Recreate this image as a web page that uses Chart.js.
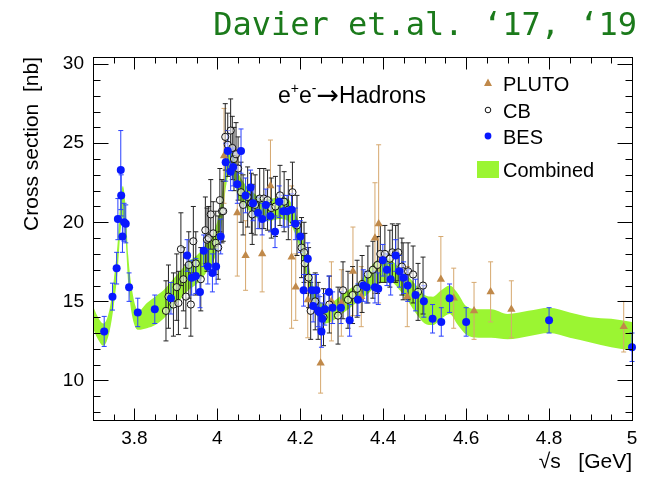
<!DOCTYPE html>
<html>
<head>
<meta charset="utf-8">
<script src="https://cdn.jsdelivr.net/npm/chart.js@4.4.0/dist/chart.umd.min.js"></script>
<style>
  html, body { margin: 0; padding: 0; background: #fff; }
  canvas { display: block; }
</style>
</head>
<body>
<canvas id="xsecChart" width="657" height="477"></canvas>
<script>
// tick labels
const xTicks = [3.8, 4, 4.2, 4.4, 4.6, 4.8, 5]
const yTicks = [10, 15, 20, 25, 30]

// combined fit band (lower / upper edge)
const bandE = [3.70, 3.71, 3.725, 3.74, 3.75, 3.76, 3.765, 3.772, 3.778, 3.785, 3.795, 3.81, 3.83, 3.85, 3.87, 3.89, 3.91, 3.93, 3.95, 3.97, 3.99, 4.00, 4.01, 4.02, 4.03, 4.04, 4.05, 4.07, 4.09, 4.11, 4.13, 4.15, 4.17, 4.18, 4.19, 4.20, 4.21, 4.22, 4.23, 4.24, 4.26, 4.28, 4.30, 4.32, 4.34, 4.36, 4.38, 4.40, 4.42, 4.44, 4.46, 4.48, 4.50, 4.52, 4.54, 4.56, 4.58, 4.60, 4.63, 4.66, 4.70, 4.75, 4.80, 4.85, 4.90, 4.95, 5.00]
const bandLow = [13.3, 12.7, 12.2, 13.1, 14.7, 17.1, 19.0, 20.3, 19.2, 16.1, 14.0, 13.2, 13.3, 13.5, 13.9, 14.5, 15.1, 15.7, 16.1, 16.7, 17.5, 18.3, 19.7, 22.1, 23.1, 22.6, 21.6, 20.9, 20.4, 20.1, 20.1, 20.2, 20.1, 19.7, 19.1, 18.2, 17.1, 15.9, 14.7, 14.1, 13.6, 13.8, 14.2, 14.6, 15.0, 15.4, 15.9, 16.2, 16.2, 15.7, 15.0, 14.2, 13.6, 13.5, 13.9, 14.2, 13.5, 12.9, 12.7, 12.7, 12.6, 12.8, 13.0, 12.7, 12.4, 12.1, 11.9]
const bandHigh = [14.7, 14.1, 13.6, 14.5, 16.3, 18.9, 21.0, 22.3, 21.2, 17.9, 15.6, 14.4, 14.9, 15.3, 15.7, 16.3, 16.9, 17.5, 17.9, 18.5, 19.3, 20.1, 21.5, 23.9, 24.9, 24.2, 23.2, 22.3, 21.8, 21.5, 21.5, 21.6, 21.5, 21.1, 20.5, 19.6, 18.5, 17.3, 16.1, 15.3, 14.8, 15.0, 15.4, 15.8, 16.2, 16.8, 17.5, 17.8, 17.6, 17.1, 16.6, 16.0, 15.4, 15.3, 15.7, 16.0, 15.5, 14.7, 14.5, 14.5, 14.2, 14.4, 14.6, 14.3, 14.0, 13.9, 13.7]

// BES
const besE = [3.727, 3.747, 3.757, 3.760, 3.767, 3.768, 3.771, 3.775, 3.779, 3.787, 3.808, 3.849, 3.888, 3.927, 3.938, 3.948, 3.958, 3.967, 3.977, 3.988, 3.997, 4.008, 4.020, 4.025, 4.032, 4.038, 4.048, 4.057, 4.068, 4.080, 4.086, 4.098, 4.108, 4.117, 4.128, 4.139, 4.149, 4.159, 4.168, 4.179, 4.188, 4.200, 4.208, 4.218, 4.228, 4.231, 4.239, 4.243, 4.247, 4.251, 4.253, 4.259, 4.269, 4.278, 4.298, 4.319, 4.339, 4.352, 4.360, 4.380, 4.388, 4.399, 4.409, 4.418, 4.430, 4.439, 4.449, 4.459, 4.478, 4.498, 4.519, 4.540, 4.560, 4.600, 4.800, 5.000]
const besXs = [13.1, 15.3, 17.1, 20.2, 23.3, 21.7, 19.1, 20.0, 19.9, 15.9, 14.3, 14.5, 15.2, 17.9, 16.5, 16.6, 15.6, 18.2, 17.2, 16.8, 17.2, 19.1, 23.8, 24.5, 23.2, 23.5, 22.4, 24.5, 21.7, 22.2, 21.2, 20.6, 20.2, 21.1, 20.4, 19.4, 21.3, 20.7, 20.7, 20.8, 19.9, 19.1, 15.7, 17.7, 15.7, 14.7, 15.7, 14.4, 14.3, 13.1, 13.9, 14.5, 15.6, 14.6, 14.6, 13.8, 15.1, 16.0, 15.9, 15.9, 15.8, 17.6, 17.0, 16.4, 17.9, 16.9, 16.5, 16.0, 15.4, 15.0, 13.9, 13.7, 15.2, 13.7, 13.8, 12.1]
const besErr = [0.95, 0.85, 1.0, 1.3, 2.5, 1.3, 1.0, 1.2, 1.2, 0.9, 0.9, 0.9, 1.0, 1.0, 1.1, 1.1, 1.0, 1.0, 1.1, 1.2, 1.1, 1.1, 1.2, 1.3, 1.2, 1.2, 1.2, 1.4, 1.1, 1.1, 1.1, 1.0, 1.0, 1.0, 1.0, 1.0, 1.0, 1.0, 1.0, 1.0, 1.0, 1.0, 1.0, 1.0, 1.0, 1.0, 1.0, 1.0, 1.0, 1.0, 1.0, 1.0, 1.0, 1.0, 1.0, 1.0, 1.0, 1.0, 1.0, 1.0, 1.0, 1.0, 1.0, 1.0, 1.0, 1.0, 1.0, 1.0, 1.0, 1.0, 0.9, 0.9, 0.9, 0.9, 0.8, 0.9]

// Crystal Ball
const cbE = [3.876, 3.882, 3.894, 3.902, 3.906, 3.912, 3.918, 3.924, 3.931, 3.936, 3.942, 3.948, 3.960, 3.971, 3.975, 3.979, 3.984, 3.990, 3.996, 4.002, 4.006, 4.011, 4.014, 4.019, 4.025, 4.032, 4.036, 4.040, 4.045, 4.050, 4.057, 4.062, 4.073, 4.082, 4.084, 4.091, 4.102, 4.112, 4.121, 4.130, 4.140, 4.151, 4.161, 4.171, 4.181, 4.192, 4.203, 4.209, 4.211, 4.220, 4.225, 4.236, 4.243, 4.256, 4.270, 4.291, 4.303, 4.315, 4.326, 4.337, 4.349, 4.363, 4.375, 4.386, 4.393, 4.404, 4.416, 4.422, 4.430, 4.436, 4.445, 4.448, 4.460, 4.472, 4.484, 4.496]
const cbXs = [14.4, 15.3, 14.8, 15.9, 14.9, 18.3, 16.4, 15.3, 17.3, 14.8, 18.8, 17.4, 16.4, 19.5, 18.9, 19.0, 20.5, 19.3, 18.7, 18.4, 21.4, 20.7, 20.7, 25.4, 24.9, 25.8, 24.7, 24.0, 24.3, 23.4, 21.9, 21.1, 21.6, 21.2, 20.5, 21.1, 21.5, 21.5, 21.4, 20.9, 21.0, 21.7, 21.3, 20.8, 21.9, 19.8, 18.4, 18.1, 17.4, 16.5, 14.4, 15.0, 14.4, 14.0, 14.8, 14.1, 15.7, 15.1, 15.4, 15.8, 16.1, 16.7, 17.0, 17.3, 18.0, 18.0, 17.7, 18.1, 18.0, 18.1, 17.2, 16.9, 16.9, 16.7, 15.6, 16.0]
const cbErr = [1.9, 2.0, 2.0, 2.1, 2.0, 2.3, 2.0, 2.0, 2.1, 2.0, 2.2, 2.0, 2.0, 2.1, 2.0, 2.0, 2.2, 2.0, 2.0, 2.0, 2.0, 2.0, 1.9, 2.1, 2.0, 2.0, 2.0, 2.0, 2.0, 2.0, 1.9, 1.9, 1.9, 1.9, 1.9, 1.9, 1.9, 1.9, 1.9, 1.9, 1.9, 1.9, 1.9, 1.9, 1.9, 1.9, 1.9, 1.9, 1.9, 1.9, 1.8, 1.8, 1.8, 1.8, 1.8, 1.8, 1.8, 1.8, 1.8, 1.8, 1.8, 1.8, 1.8, 1.8, 1.8, 1.8, 1.8, 1.8, 1.8, 1.8, 1.8, 1.8, 1.8, 1.8, 1.8, 1.8]

// PLUTO
const plutoE = [4.016, 4.048, 4.068, 4.108, 4.128, 4.179, 4.189, 4.218, 4.249, 4.275, 4.299, 4.327, 4.347, 4.380, 4.389, 4.458, 4.539, 4.570, 4.619, 4.659, 4.709, 4.980]
const plutoXs = [24.2, 20.6, 17.9, 18.0, 22.3, 17.8, 15.9, 15.1, 11.1, 15.0, 14.9, 16.9, 15.3, 19.0, 19.9, 15.3, 16.4, 15.2, 14.4, 15.6, 14.5, 13.4]
const plutoErr = [3.0, 4.0, 2.2, 2.4, 2.9, 4.5, 2.1, 2.4, 1.9, 2.5, 2.1, 2.8, 1.9, 3.5, 5.0, 1.9, 2.7, 1.9, 1.8, 1.9, 1.8, 1.6]

const points = (e, v) => e.map((x, i) => ({x, y: v[i]}))
// vertical error bars as broken line segments, caps drawn as 'line' points
const errorBars = (e, v, err) => {
  const pts = []
  e.forEach((x, i) => {
    pts.push({x, y: v[i] - err[i]}, {x, y: v[i] + err[i]}, {x, y: null})
  })
  return pts
}
const bars = (data, color, order) => ({
  data,
  showLine: true,
  spanGaps: false,
  borderColor: color,
  borderWidth: 1,
  pointStyle: 'line',
  pointRadius: 2.5,
  pointBorderColor: color,
  pointBorderWidth: 1,
  clip: false,
  order
})

const FONT = 'Liberation Sans'
const GREEN = '#9bf532'

const decor = {
  id: 'decor',
  afterDatasetsDraw (chart) {
    const {ctx, chartArea: a, scales: {x, y}} = chart
    ctx.save()
    ctx.strokeStyle = '#000'
    ctx.lineWidth = 1
    const L = Math.round(a.left) + 0.5, R = Math.round(a.right) + 0.5
    const T = Math.round(a.top) + 0.5, B = Math.round(a.bottom) + 0.5
    ctx.strokeRect(L, T, R - L, B - T)
    ctx.beginPath()
    for (let i = 0; i <= 26; i++) {
      const v = 3.7 + i * 0.05
      const px = Math.round(x.getPixelForValue(v)) + 0.5
      const major = xTicks.some(t => Math.abs(t - v) < 1e-6)
      const len = major ? 12 : 6
      ctx.moveTo(px, B); ctx.lineTo(px, B - len)
      ctx.moveTo(px, T); ctx.lineTo(px, T + len)
    }
    for (let v = 8; v <= 30; v++) {
      const py = Math.round(y.getPixelForValue(v)) + 0.5
      const len = v % 5 === 0 ? 15 : 7
      ctx.moveTo(L, py); ctx.lineTo(L + len, py)
      ctx.moveTo(R, py); ctx.lineTo(R - len, py)
    }
    ctx.stroke()

    // reaction label
    ctx.fillStyle = '#000'
    ctx.textAlign = 'left'
    ctx.textBaseline = 'alphabetic'
    let cx = 278
    const big = '23px "' + FONT + '"', small = '14px "' + FONT + '"'
    const piece = (t, f, base) => { ctx.font = f; ctx.fillText(t, cx, base); cx += ctx.measureText(t).width }
    piece('e', big, 103)
    piece('+', small, 93)
    piece('e', big, 103)
    piece('-', small, 93)
    piece('→', '27px "DejaVu Sans"', 104)
    piece('Hadrons', big, 103)

    // legend
    ctx.font = '20px "' + FONT + '"'
    ctx.fillText('PLUTO', 503, 91)
    ctx.fillText('CB', 503, 118)
    ctx.fillText('BES', 503, 144)
    ctx.fillText('Combined', 503, 177)
    ctx.fillStyle = '#c0894a'
    ctx.beginPath()
    ctx.moveTo(488, 78.5); ctx.lineTo(492, 86); ctx.lineTo(484, 86); ctx.closePath()
    ctx.fill()
    ctx.beginPath()
    ctx.arc(488, 110, 2.8, 0, Math.PI * 2)
    ctx.strokeStyle = '#111'
    ctx.stroke()
    ctx.fillStyle = '#0818ff'
    ctx.beginPath()
    ctx.arc(488, 136, 3.4, 0, Math.PI * 2)
    ctx.fill()
    ctx.fillStyle = GREEN
    ctx.fillRect(477, 161, 22, 17)

    // header
    ctx.fillStyle = '#1b7a1b'
    ctx.textAlign = 'right'
    ctx.font = '32px "DejaVu Sans Mono"'
    ctx.fillText('Davier et.al. ‘17, ‘19', 637, 35)
    ctx.restore()
  }
}

new Chart('xsecChart', {
  type: 'scatter',
  data: {
    datasets: [
      { label: 'BES', data: points(besE, besXs), pointRadius: 4, pointBackgroundColor: '#0818ff', pointBorderColor: '#0818ff', pointBorderWidth: 0, clip: false, order: 0 },
      { label: 'CB', data: points(cbE, cbXs), pointRadius: 3.6, pointBackgroundColor: 'rgba(255,255,255,0.55)', pointBorderColor: '#111', pointBorderWidth: 1, clip: false, order: 1 },
      { label: 'PLUTO', data: points(plutoE, plutoXs), pointStyle: 'triangle', pointRadius: 4.8, pointBackgroundColor: '#c0894a', pointBorderColor: '#c0894a', pointBorderWidth: 0, clip: false, order: 2 },
      bars(errorBars(besE, besXs, besErr), '#2a40ff', 3),
      bars(errorBars(cbE, cbXs, cbErr), '#222', 4),
      bars(errorBars(plutoE, plutoXs, plutoErr), '#d6a86e', 5),
      { label: 'Combined', data: points(bandE, bandHigh), showLine: true, fill: '+1', backgroundColor: GREEN, borderColor: 'rgba(0,0,0,0)', borderWidth: 0, pointRadius: 0, cubicInterpolationMode: 'monotone', order: 6 },
      { label: 'band low', data: points(bandE, bandLow), showLine: true, fill: false, borderColor: 'rgba(0,0,0,0)', borderWidth: 0, pointRadius: 0, cubicInterpolationMode: 'monotone', order: 7 }
    ]
  },
  options: {
    responsive: false,
    animation: false,
    events: [],
    layout: { padding: { top: 57, right: 25, bottom: 0, left: 0 } },
    plugins: {
      legend: { display: false },
      tooltip: { enabled: false },
      title: { display: false }
    },
    scales: {
      x: {
        type: 'linear',
        min: 3.7,
        max: 5.0,
        afterBuildTicks: s => { s.ticks = xTicks.map(value => ({value})) },
        afterFit: s => { s.height = 57 },
        grid: { display: false },
        border: { display: false },
        ticks: { font: { family: FONT, size: 19 }, color: '#000', padding: -1, maxRotation: 0, autoSkip: false, callback: v => String(v) },
        title: { display: true, text: '√s   [GeV]', align: 'end', color: '#000', font: { family: FONT, size: 21 }, padding: { top: 0, bottom: 2 } }
      },
      y: {
        type: 'linear',
        min: 7.5,
        max: 30.45,
        afterBuildTicks: s => { s.ticks = yTicks.map(value => ({value})) },
        afterFit: s => { s.width = 93 },
        grid: { display: false },
        border: { display: false },
        ticks: { font: { family: FONT, size: 19 }, color: '#000', padding: 1 },
        title: { display: true, text: 'Cross section  [nb]', align: 'end', color: '#000', font: { family: FONT, size: 21 }, padding: { top: 20, bottom: 0 } }
      }
    }
  },
  plugins: [decor]
})
</script>
</body>
</html>
